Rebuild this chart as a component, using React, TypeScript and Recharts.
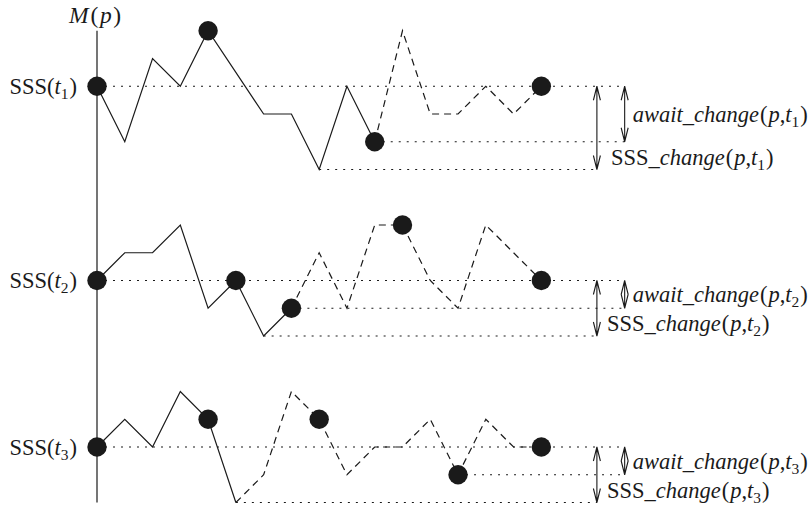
import React from 'react';
import { ComposedChart, Line, Scatter, XAxis, YAxis, ReferenceLine } from 'recharts';

type Pt = [number, number];

// step index (x) and level (relative to each panel's SSS level)
const p1Solid: Pt[] = [[0, 0], [1, -2], [2, 1], [3, 0], [4, 2], [6, -1], [7, -1], [8, -3], [9, 0], [10, -2]];
const p1Dashed: Pt[] = [[10, -2], [11, 2], [12, -1], [13, -1], [14, 0], [15, -1], [16, 0]];
const p1Dots: Pt[] = [[0, 0], [4, 2], [10, -2], [16, 0]];

const p2Solid: Pt[] = [[0, 0], [1, 1], [2, 1], [3, 2], [4, -1], [5, 0], [6, -2], [7, -1]];
const p2Dashed: Pt[] = [[7, -1], [8, 1], [9, -1], [10, 2], [11, 2], [12, 0], [13, -1], [14, 2], [16, 0]];
const p2Dots: Pt[] = [[0, 0], [5, 0], [7, -1], [11, 2], [16, 0]];

const p3Solid: Pt[] = [[0, 0], [1, 1], [2, 0], [3, 2], [4, 1], [5, -2]];
const p3Dashed: Pt[] = [[5, -2], [6, -1], [7, 2], [8, 1], [9, -1], [10, 0], [11, 0], [12, 1], [13, -1], [14, 1], [15, 0], [16, 0]];
const p3Dots: Pt[] = [[0, 0], [4, 1], [8, 1], [13, -1], [16, 0]];

const panelOffsets = [13, 6, 0];
const panelSubs = ['1', '2', '3'];
const awaitStart = [10, 7, 13];
const awaitLevel = [-2, -1, -1];
const minStart = [8, 6, 5];
const minLevel = [-3, -2, -2];

const levelEndX = 19;
const sssArrowX = 18;
const awaitArrowX = 19;
const axisTop = 15;
const axisBottom = -2;

const solids = [p1Solid, p2Solid, p3Solid];
const dasheds = [p1Dashed, p2Dashed, p3Dashed];
const dotsets = [p1Dots, p2Dots, p3Dots];

const toData = (pts: Pt[], off: number) => pts.map(([x, v]) => ({ x, y: v + off }));

const FONT = 'Liberation Serif';
const INK = '#1a1a1a';
const FS = 22.5;
const textStyle: React.CSSProperties = { fontFamily: FONT, fontSize: FS };

const TSub = ({ n }: { n: string }) => (
  <>
    <tspan style={{ fontStyle: 'italic', fontFamily: FONT }}>t</tspan>
    <tspan dy={5} style={{ fontSize: 15.5, fontFamily: FONT }}>{n}</tspan>
    <tspan dy={-5} dx={1} style={{ fontFamily: FONT }}>)</tspan>
  </>
);

const It = ({ children, dx }: { children: React.ReactNode; dx?: number }) => (
  <tspan dx={dx} style={{ fontStyle: 'italic', fontFamily: FONT }}>{children}</tspan>
);

const Args = ({ sub }: { sub: string }) => (
  <>
    <tspan dx={1}>(</tspan>
    <It dx={1}>p</It>
    <tspan>,</tspan>
    <tspan dx={3} />
    <TSub n={sub} />
  </>
);

const levelShape = (sub: string) => (props: any) => (
  <g>
    <line x1={props.x1} y1={props.y1} x2={props.x2} y2={props.y2} stroke={INK} strokeWidth={1.1} strokeDasharray="2 6" />
    <text x={props.x1 - 20} y={props.y1 + 7.5} textAnchor="end" fontFamily={FONT} style={textStyle} fill={INK}>
      SSS(<TSub n={sub} />
    </text>
  </g>
);

const dottedShape = (props: any) => (
  <line x1={props.x1} y1={props.y1} x2={props.x2} y2={props.y2} stroke={INK} strokeWidth={1.1} strokeDasharray="2 6" />
);

const arrowPath = (x: number, yTop: number, yBot: number) => {
  const h = 14;
  const w = 3.5;
  return `M${x},${yTop} L${x},${yBot} M${x - w},${yTop + h} L${x},${yTop} L${x + w},${yTop + h} M${x - w},${yBot - h} L${x},${yBot} L${x + w},${yBot - h}`;
};

const awaitShape = (sub: string) => (props: any) => {
  const yTop = Math.min(props.y1, props.y2);
  const yBot = Math.max(props.y1, props.y2);
  return (
    <g>
      <path d={arrowPath(props.x1, yTop, yBot)} stroke={INK} strokeWidth={1.1} fill="none" />
      <text x={props.x1 + 8} y={(yTop + yBot) / 2 + 8} fontFamily={FONT} style={textStyle} fill={INK}>
        <It>await_change</It>
        <Args sub={sub} />
      </text>
    </g>
  );
};

const sssShape = (sub: string, dx: number) => (props: any) => {
  const yTop = Math.min(props.y1, props.y2);
  const yBot = Math.max(props.y1, props.y2);
  return (
    <g>
      <path d={arrowPath(props.x1, yTop, yBot)} stroke={INK} strokeWidth={1.1} fill="none" />
      <text x={props.x1 + dx} y={yBot - 5} fontFamily={FONT} style={textStyle} fill={INK}>
        SSS<It>_change</It>
        <Args sub={sub} />
      </text>
    </g>
  );
};

const axisShape = (props: any) => {
  const yTop = Math.min(props.y1, props.y2);
  return (
    <g>
      <line x1={props.x1} y1={props.y1} x2={props.x2} y2={props.y2} stroke={INK} strokeWidth={1.2} />
      <text x={props.x1 - 2} y={yTop - 8} textAnchor="middle" fontFamily={FONT} style={{ ...textStyle, fontSize: 23.5 }} fill={INK}>
        <It>M</It>
        <tspan dx={2}>(</tspan>
        <It dx={1.5}>p</It>
        <tspan dx={1.5}>)</tspan>
      </text>
    </g>
  );
};

const dotShape = (props: any) => <circle cx={props.cx} cy={props.cy} r={9.7} fill={INK} />;

const sssDx = [14, 10, 10];

export default function App() {
  return (
    <div style={{ position: 'absolute', left: 0, top: 0, background: '#fff', fontFamily: FONT }}>
      <ComposedChart width={812} height={507} margin={{ top: 3, right: 20.7, bottom: 4.5, left: 97 }}>
        <XAxis dataKey="x" type="number" domain={[0, 25]} hide />
        <YAxis dataKey="y" type="number" domain={[-2, 16]} hide />
        <ReferenceLine segment={[{ x: 0, y: axisTop }, { x: 0, y: axisBottom }]} shape={axisShape} />
        {panelOffsets.map((off, i) => (
          <React.Fragment key={`ref${i}`}>
            <ReferenceLine segment={[{ x: 0, y: off }, { x: levelEndX, y: off }]} shape={levelShape(panelSubs[i])} />
            <ReferenceLine segment={[{ x: awaitStart[i], y: off + awaitLevel[i] }, { x: levelEndX, y: off + awaitLevel[i] }]} shape={dottedShape} />
            <ReferenceLine segment={[{ x: minStart[i], y: off + minLevel[i] }, { x: sssArrowX, y: off + minLevel[i] }]} shape={dottedShape} />
            <ReferenceLine segment={[{ x: sssArrowX, y: off }, { x: sssArrowX, y: off + minLevel[i] }]} shape={sssShape(panelSubs[i], sssDx[i])} />
            <ReferenceLine segment={[{ x: awaitArrowX, y: off }, { x: awaitArrowX, y: off + awaitLevel[i] }]} shape={awaitShape(panelSubs[i])} />
          </React.Fragment>
        ))}
        {panelOffsets.map((off, i) => (
          <Line key={`s${i}`} data={toData(solids[i], off)} dataKey="y" type="linear" stroke={INK} strokeWidth={1.2} dot={false} activeDot={false} isAnimationActive={false} />
        ))}
        {panelOffsets.map((off, i) => (
          <Line key={`d${i}`} data={toData(dasheds[i], off)} dataKey="y" type="linear" stroke={INK} strokeWidth={1.2} strokeDasharray="7 5" dot={false} activeDot={false} isAnimationActive={false} />
        ))}
        {panelOffsets.map((off, i) => (
          <Scatter key={`p${i}`} data={toData(dotsets[i], off)} dataKey="y" shape={dotShape} isAnimationActive={false} />
        ))}
      </ComposedChart>
    </div>
  );
}
